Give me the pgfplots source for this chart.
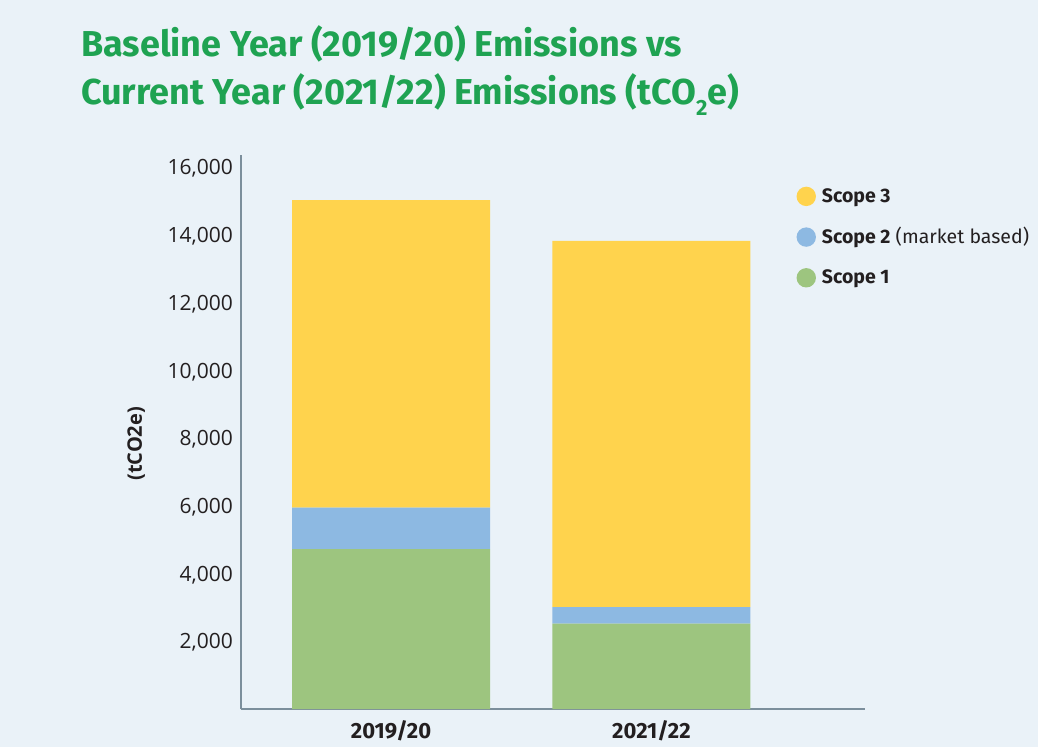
\documentclass[border=0pt]{standalone}
\usepackage{pgfplots}
\pgfplotsset{compat=1.18}
\usepackage{fontspec}
\setmainfont{Fira Sans}
\newfontfamily\opensans{Open Sans}
\definecolor{bg}{HTML}{EAF2F8}
\definecolor{titlegreen}{HTML}{1FA352}
\definecolor{textdark}{HTML}{231F20}
\definecolor{axisgrey}{HTML}{7C8F9C}
\definecolor{sthree}{HTML}{FFD34D}
\definecolor{stwo}{HTML}{8DB9E2}
\definecolor{sone}{HTML}{9DC57F}
\begin{document}
\begin{tikzpicture}[x=1pt,y=1pt]
\fill[bg] (0,0) rectangle (1038,747);
\node[anchor=base west, inner sep=0pt, text=titlegreen, font=\bfseries\fontsize{36}{48}\selectfont] at (81,690.3) {Baseline Year (2019/20) Emissions vs};
\node[anchor=base west, inner sep=0pt, text=titlegreen, font=\bfseries\fontsize{36}{48}\selectfont] at (81,642) {Current Year (2021/22) Emissions (tCO\raisebox{-0.3em}{\fontsize{22}{22}\selectfont 2}e)};
\begin{axis}[
  at={(241pt,38pt)}, anchor=south west,
  scale only axis, width=624pt, height=553.5pt,
  xmin=-0.576, xmax=1.82, ymin=0, ymax=16350,
  enlargelimits=false,
  ybar stacked, bar width=198pt,
  axis x line*=bottom, axis y line*=left,
  axis line style={draw=axisgrey, line width=1.6pt},
  major tick length=0pt,
  xtick={0,1}, xticklabels={2019/20,2021/22},
  xticklabel style={font=\bfseries\fontsize{22}{22}\selectfont, text=textdark, inner sep=0pt, anchor=north, text height=15pt, yshift=-14pt},
  ytick={2000,4000,...,16000},
  scaled y ticks=false,
  yticklabel style={font=\opensans\fontsize{21}{21}\selectfont, text=textdark, inner sep=0pt, text depth=0pt, xshift=-8pt, /pgf/number format/fixed, /pgf/number format/1000 sep={,}, /pgf/number format/assume math mode=true},
  ylabel={(tCO2e)},
  ylabel style={font=\opensans\bfseries\fontsize{20}{20}\selectfont, text=textdark, at={(axis description cs:-0.168,0.479)}, anchor=center},
  reverse legend,
  legend style={at={(axis description cs:0.890,0.944)}, anchor=north west, draw=none, fill=none, inner sep=0pt, row sep=20pt,
    font=\fontsize{19.5}{20}\selectfont, text=textdark,
    nodes={inner sep=0pt, text height=14pt, text depth=5pt, anchor=base west},
    /tikz/every odd column/.append style={column sep=6pt}},
  legend cell align=left,
]
\addplot[fill=sone, draw=none, legend image code/.code={\fill[sone] (9.7pt,6pt) circle (9.7pt);}] coordinates {(0,4725) (1,2520)};
\addlegendentry{\textbf{Scope 1}}
\addplot[fill=stwo, draw=none, legend image code/.code={\fill[stwo] (9.7pt,6pt) circle (9.7pt);}] coordinates {(0,1220) (1,490)};
\addlegendentry{\textbf{Scope 2} (market based)}
\addplot[fill=sthree, draw=none, legend image code/.code={\fill[sthree] (9.7pt,6pt) circle (9.7pt);}] coordinates {(0,9085) (1,10820)};
\addlegendentry{\textbf{Scope 3}}
\end{axis}
\end{tikzpicture}
\end{document}
